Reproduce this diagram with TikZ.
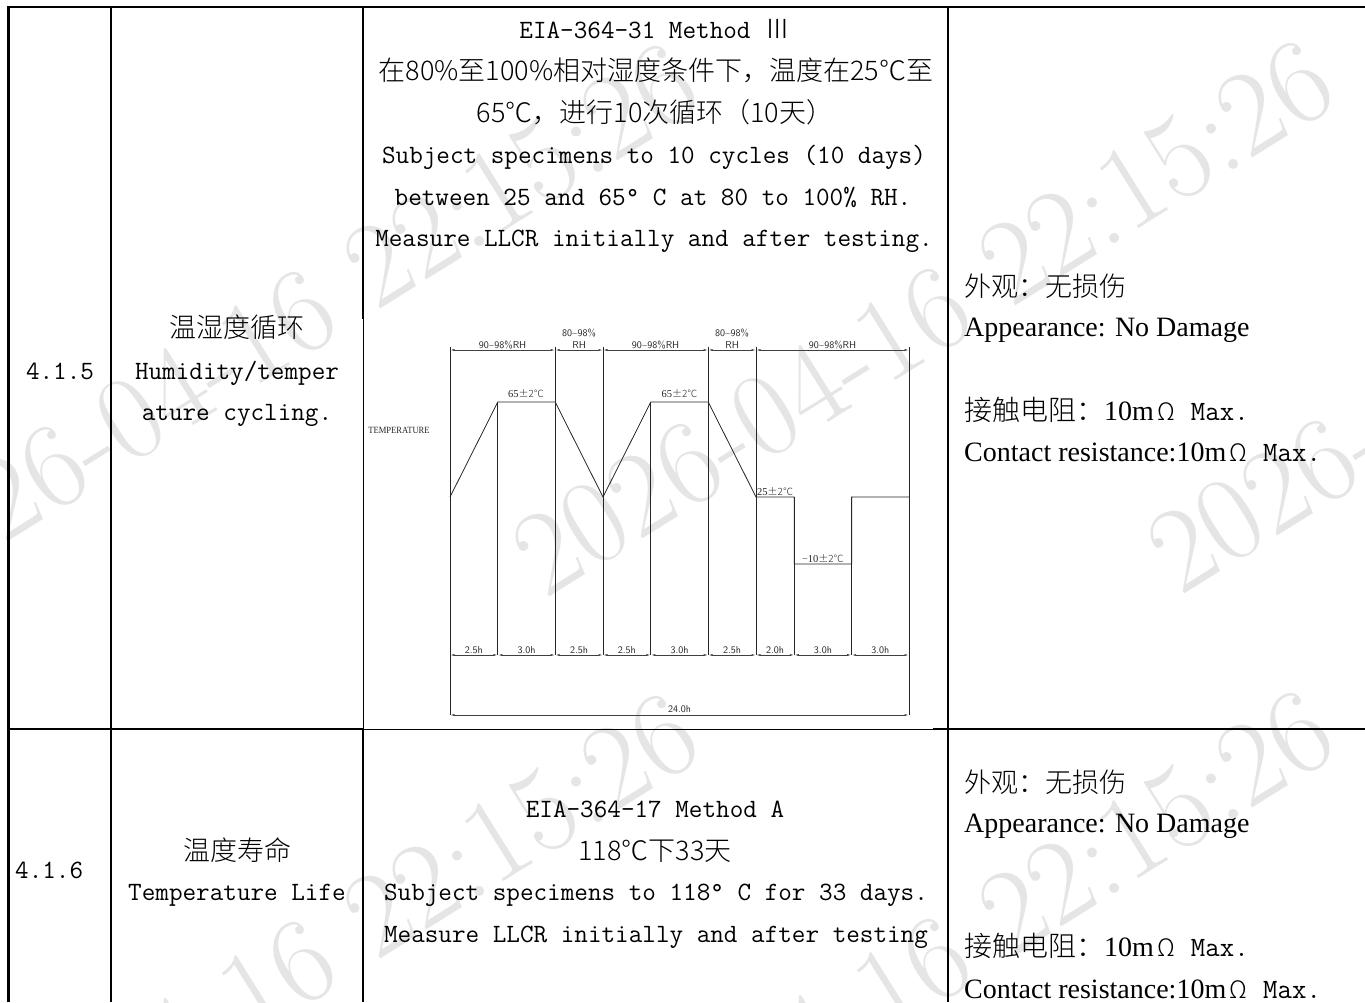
\documentclass[tikz,border=0pt]{standalone}
\usepackage{fontspec}
\setmainfont{Liberation Serif}
\IfFontExistsTF{Noto Sans CJK SC Light}{\newfontfamily\cjk{Noto Sans CJK SC Light}}{\newfontfamily\cjk{Noto Sans CJK SC}}
\newfontfamily\wmfont{Latin Modern Roman}
\usetikzlibrary{arrows.meta}
\begin{document}
\begin{tikzpicture}[x=1pt,y=-1pt,
  tbl/.style={line width=2.2pt},
  tblthin/.style={line width=0.9pt},
  crv/.style={line width=0.8pt, draw=black!85},
  dimline/.style={line width=0.7pt, draw=black!75, {Latex[length=4.5pt,width=2pt]}-{Latex[length=4.5pt,width=2pt]}},
  body/.style={inner sep=0, anchor=base},
  mono/.style={body, font=\fontsize{26.4}{30}\selectfont\ttfamily},
  cj/.style={body, font=\fontsize{27}{30}\selectfont\cjk},
  rmt/.style={body, font=\fontsize{28}{30}\selectfont\rmfamily},
  wm/.style={inner sep=0, anchor=base west, rotate=32, text=black!10, font=\fontsize{120}{120}\selectfont\wmfont},
  lab/.style={inner sep=0, anchor=base, font=\fontsize{10}{10}\selectfont\sffamily, text=black!85},
  tlab/.style={inner sep=0, anchor=base, font=\fontsize{10.5}{10}\selectfont\rmfamily, text=black!85},
]
\useasboundingbox (0,0) rectangle (1365,1002);
\fill[white] (0,0) rectangle (1365,1002);

% ---------- watermarks ----------
\foreach \wx/\wy [count=\i] in {-90/603, 545/600, 1180/597, -90/1253, 545/1250, 1180/1247}
  \node[wm] (wm\i) at (\wx,\wy) {2026-04-16 22:15:26};

% ---------- table ----------
\draw[tbl] (8.5,7) -- (1365,7);
\draw[tbl] (8.5,6) -- (8.5,1002);
\draw[tbl] (111,6) -- (111,1002);
\draw[tbl] (363,6) -- (363,319);
\draw[tblthin] (363,319) -- (363,729);
\draw[tbl] (363,729) -- (363,1002);
\draw[tbl] (948,6) -- (948,1002);
\draw[tbl] (8.5,729) -- (363,729);
\draw[tblthin] (363,729) -- (933,729);
\draw[tbl] (933,729) -- (1365,729);

% ---------- row 4.1.5 ----------
\node[mono] (n415) at (60,379) {4.1.5};
\node[cj]   (t1a) at (237,337) {温湿度循环};
\node[mono] (t1b) at (237,379) {Humidity/temper};
\node[mono] (t1c) at (237,420) {ature cycling.};

\node[mono] (m1a) at (655,38) {EIA-364-31 Method {\cjk Ⅲ}};
\node[cj]   (m1b) at (656,80) {在80\%至100\%相对湿度条件下，温度在25℃至};
\node[cj]   (m1c) at (655,122) {65℃，进行10次循环（10天）};
\node[mono] (m1d) at (654,163) {Subject specimens to 10 cycles (10 days)};
\node[mono] (m1e) at (653,205) {between 25 and 65° C at 80 to 100\% RH.};
\node[mono] (m1f) at (654,246) {Measure LLCR initially and after testing.};

\node[cj,anchor=base west]  (r1a) at (964,296) {外观：无损伤};
\node[rmt,anchor=base west] (r1b) at (964,336) {Appearance: No Damage};
\node[rmt,anchor=base west] (r1c) at (964,420) {{\cjk 接触电阻：}10m\makebox[24pt]{\cjk\fontsize{24}{24}\selectfont Ω}\hspace{13pt}{\ttfamily Max.}};
\node[rmt,anchor=base west] (r1d) at (964,461) {Contact resistance:10m\makebox[24pt]{\cjk\fontsize{24}{24}\selectfont Ω}\hspace{13pt}{\ttfamily Max.}};

% ---------- chart ----------
\foreach \n/\v in {0/450,1/497.8,2/555.2,3/603,4/650.8,5/708.2,6/756,7/794.3,8/851.6,9/909}
  \coordinate (s\n) at (\v,0);
\def\yT{350}\def\yH{402}\def\yM{497}\def\yL{564}\def\yD{655}\def\yF{715}

% vertical extension lines
\draw[crv] (s0|-0,347) -- (s0|-0,\yF);
\draw[crv] (s9|-0,347) -- (s9|-0,\yF);
\foreach \n in {2,3,5,6} \draw[crv] (s\n|-0,347) -- (s\n|-0,\yD);
\foreach \n in {1,4} \draw[crv] (s\n|-0,\yH) -- (s\n|-0,\yD);
\foreach \n in {7,8} \draw[crv] (s\n|-0,\yM) -- (s\n|-0,\yD);

% temperature profile
\draw[crv] (s0|-0,\yM) -- (s1|-0,\yH) -- (s2|-0,\yH) -- (s3|-0,\yM) -- (s4|-0,\yH) -- (s5|-0,\yH)
  -- (s6|-0,\yM) -- (s7|-0,\yM) -- (s7|-0,\yL) -- (s8|-0,\yL) -- (s8|-0,\yM) -- (s9|-0,\yM);

% top RH dimensions
\draw[dimline] (s0|-0,\yT) -- (s2|-0,\yT);
\draw[dimline] (s2|-0,\yT) -- (s3|-0,\yT);
\draw[dimline] (s3|-0,\yT) -- (s5|-0,\yT);
\draw[dimline] (s5|-0,\yT) -- (s6|-0,\yT);
\draw[dimline] (s6|-0,\yT) -- (s9|-0,\yT);
\node[lab] (rh1) at (502.6,348.5) {90\textasciitilde98\%RH};
\node[lab] (rh2) at (579.1,336) {80\textasciitilde98\%};
\node[lab] (rh2b) at (579.1,348.5) {RH};
\node[lab] (rh3) at (655.6,348.5) {90\textasciitilde98\%RH};
\node[lab] (rh4) at (732.1,336) {80\textasciitilde98\%};
\node[lab] (rh4b) at (732.1,348.5) {RH};
\node[lab] (rh5) at (832.5,348.5) {90\textasciitilde98\%RH};

% temperature labels
\node[tlab] (h1) at (526,397) {65{\cjk\fontsize{10}{10}\selectfont ±2℃}};
\node[tlab] (h2) at (679.5,397) {65{\cjk\fontsize{10}{10}\selectfont ±2℃}};
\node[tlab,anchor=base west] (h3) at (757,495.5) {25{\cjk\fontsize{10}{10}\selectfont ±2℃}};
\node[tlab] (h4) at (823,562) {{\cjk\fontsize{10}{10}\selectfont −}10{\cjk\fontsize{10}{10}\selectfont ±2℃}};
\node[inner sep=0, font=\fontsize{9.5}{9.5}\selectfont\rmfamily, text=black!85, xscale=0.9] (temp) at (399,430) {TEMPERATURE};

% bottom time dimensions
\foreach \a/\b/\t in {0/1/2.5h,1/2/3.0h,2/3/2.5h,3/4/2.5h,4/5/3.0h,5/6/2.5h,6/7/2.0h,7/8/3.0h,8/9/3.0h}{
  \draw[dimline] (s\a|-0,\yD) -- (s\b|-0,\yD);
  \path (s\a|-0,\yD) -- node[lab, pos=0.5, yshift=1.8pt] (d\a) {\t} (s\b|-0,\yD);
}
\draw[dimline] (s0|-0,\yF) -- (s9|-0,\yF);
\node[lab] (tot) at (679.5,712.5) {24.0h};

% ---------- row 4.1.6 ----------
\node[mono,anchor=base west] (n416) at (15,878) {4.1.6};
\node[cj]   (t2a) at (237,860) {温度寿命};
\node[mono] (t2b) at (237,900) {Temperature Life};

\node[mono] (m2a) at (655,817) {EIA-364-17 Method A};
\node[cj]   (m2b) at (655,860) {118℃下33天};
\node[mono] (m2c) at (656,900) {Subject specimens to 118° C for 33 days.};
\node[mono] (m2d) at (656,942) {Measure LLCR initially and after testing};

\node[cj,anchor=base west]  (r2a) at (964,792) {外观：无损伤};
\node[rmt,anchor=base west] (r2b) at (964,832) {Appearance: No Damage};
\node[rmt,anchor=base west] (r2c) at (964,956) {{\cjk 接触电阻：}10m\makebox[24pt]{\cjk\fontsize{24}{24}\selectfont Ω}\hspace{13pt}{\ttfamily Max.}};
\node[rmt,anchor=base west] (r2d) at (964,998) {Contact resistance:10m\makebox[24pt]{\cjk\fontsize{24}{24}\selectfont Ω}\hspace{13pt}{\ttfamily Max.}};
\end{tikzpicture}
\end{document}
